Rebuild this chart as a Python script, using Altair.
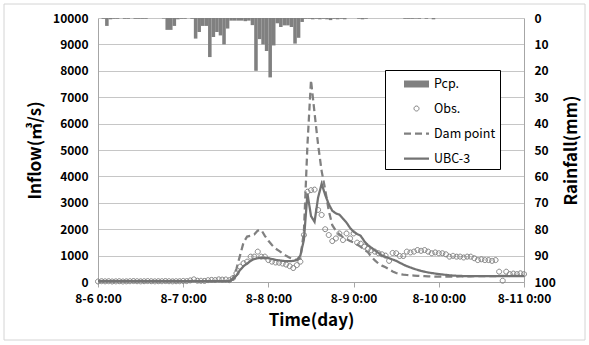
import altair as alt
import pandas as pd

# ---------------- data ----------------
hours = list(range(121))  # hourly, 8-6 0:00 .. 8-11 0:00

obs = [
    20, 30, 25, 30, 20, 25, 30, 20, 25, 30,            # h0-9
    35, 30, 25, 30, 35, 30, 25, 30, 30, 35,            # h10-19
    30, 25, 30, 30, 40, 35, 60, 100, 50, 45,           # h20-29
    40, 70, 80, 75, 100, 90, 95, 70, 150, 330,         # h30-39
    580, 710, 770, 960, 960, 1150, 960, 960, 830, 770,  # h40-49
    740, 730, 700, 660, 600, 530, 640, 770, 1780, 3420,  # h50-59
    3480, 3500, 2730, 2540, 2000, 1780, 1550, 1650, 1840, 1590,  # h60-69
    1840, 1650, 1840, 1490, 1450, 1340, 1250, 1200, 1150, 1090,  # h70-79
    1050, 1000, 800, 1100, 1090, 985, 985, 1150, 1120, 1150,     # h80-89
    1210, 1180, 1210, 1150, 1090, 1120, 1090, 1090, 1050, 960,   # h90-99
    990, 960, 960, 930, 960, 960, 900, 830, 860, 830,            # h100-109
    830, 800, 830, 390, 50, 390, 300, 320, 300, 330,             # h110-119
    300,                                                          # h120
]

dam = [
    30, 30, 30, 30, 30, 30, 30, 30, 30, 30,
    30, 30, 30, 30, 30, 30, 30, 30, 30, 30,
    30, 30, 30, 30, 30, 30, 30, 30, 30, 30,
    30, 30, 30, 30, 30, 30, 30, 50, 150, 500,
    1000, 1500, 1720, 1750, 1800, 1950, 1970, 1750, 1560, 1400,
    1270, 1180, 1080, 990, 920, 870, 830, 900, 1900, 5200,
    7650, 6400, 5200, 4200, 3500, 2700, 2150, 1950, 1800, 1700,
    1620, 1550, 1500, 1420, 1330, 1230, 1130, 960, 820, 700,
    620, 560, 480, 400, 340, 300, 280, 265, 255, 245,
    235, 225, 220, 215, 210, 205, 205, 205, 205, 205,
    205, 205, 210, 210, 215, 215, 220, 220, 220, 225,
    225, 225, 225, 230, 230, 230, 230, 230, 230, 230,
    230,
]

ubc = [
    30, 30, 30, 30, 30, 30, 30, 30, 30, 30,
    30, 30, 30, 30, 30, 30, 30, 30, 30, 30,
    30, 30, 30, 30, 30, 30, 30, 30, 30, 30,
    30, 30, 30, 30, 30, 30, 30, 30, 100, 250,
    450, 600, 700, 800, 870, 900, 920, 910, 900, 870,
    840, 820, 800, 790, 790, 800, 830, 1000, 1600, 3350,
    2500, 2280, 3200, 3720, 3300, 2950, 2700, 2600, 2550, 2400,
    2250, 2050, 1900, 1820, 1750, 1550, 1400, 1300, 1200, 1100,
    1000, 950, 900, 850, 800, 730, 660, 600, 550, 500,
    460, 420, 390, 360, 340, 320, 300, 285, 270, 255,
    245, 235, 230, 225, 225, 225, 225, 225, 225, 225,
    225, 225, 225, 225, 225, 225, 225, 225, 225, 225,
    225,
]

rain = [  # mm per hour, h0 .. h119
    0, 0.3, 3.0, 0.5, 0.3, 0.3, 0, 0.3, 0.3, 0,
    0.3, 0.3, 0.3, 0.3, 0, 0, 0, 0, 0.2, 4.5,
    4.5, 3.0, 0.5, 0.3, 0.3, 0, 0.3, 7.8, 5.3, 3.0,
    3.0, 14.8, 7.2, 5.3, 6.6, 10.0, 4.0, 1.0, 1.0, 1.0,
    1.0, 1.2, 1.0, 2.7, 20.0, 8.0, 10.0, 12.5, 22.5, 10.4,
    2.0, 3.4, 2.8, 2.8, 3.4, 9.7, 7.5, 1.5, 0.3, 0.3,
    0.5, 0.3, 0.5, 0.3, 0.5, 0.8, 0.3, 0.5, 0.3, 0.5,
    0, 0, 0, 0.3, 0.5, 0.3, 0, 0, 0, 0,
    0, 0, 0, 0, 0, 0, 0.3, 0.3, 0.3, 0.2,
    0.3, 0, 0.3, 0, 0.5, 0, 0, 0, 0, 0,
    0, 0, 0, 0, 0, 0, 0, 0, 0, 0,
    0, 0, 0, 0, 0, 0, 0, 0, 0, 0,
]

tick_hours = [0, 24, 48, 72, 96, 120]
tick_labels = ["8-6 0:00", "8-7 0:00", "8-8 0:00", "8-9 0:00", "8-10 0:00", "8-11 0:00"]
series_names = ["Pcp.", "Obs.", "Dam point", "UBC-3"]

# ---------------- tables ----------------
rain_df = pd.DataFrame({"hour": hours[:-1], "rain": rain, "series": "Pcp."})
rain_df["hour_end"] = rain_df["hour"] + 1
obs_df = pd.DataFrame({"hour": hours, "flow": obs, "series": "Obs."})
line_df = pd.concat([
    pd.DataFrame({"hour": hours, "flow": dam, "series": "Dam point"}),
    pd.DataFrame({"hour": hours, "flow": ubc, "series": "UBC-3"}),
])

FONT = "Noto Sans CJK KR"
GRAY = "#808080"
DARK = "#737373"

label_array = "[" + ",".join("'" + t + "'" for t in tick_labels) + "]"
x_axis = alt.Axis(values=tick_hours, labelExpr=label_array + "[round(datum.value/24)]",
                  title="Time(day)", grid=False, tickSize=5, labelPadding=6,
                  titlePadding=8, labelFlush=False, labelOverlap=False)
x_scale = alt.Scale(domain=[0, 120], nice=False, zero=False)

legend = alt.Legend(
    title=None, orient="none", legendX=287, legendY=52,
    strokeColor="black", fillColor="white", padding=4,
    symbolSize=400, symbolOffset=16, labelOffset=6, rowPadding=7,
    labelFont=FONT, labelFontSize=12.5, labelFontWeight="normal", labelColor="black",
)

# symbol shapes (unit paths, scaled by the symbol size)
RECT = "M-1.25,-0.35H1.25V0.35H-1.25Z"
SMALL_CIRCLE = "M0.25,0A0.25,0.25 0 1,1 -0.25,0A0.25,0.25 0 1,1 0.25,0Z"
LINE = "M-1.25,0H1.25"

# one scale per visual channel, all keyed on the same series field -> one merged legend
fill_enc = alt.Fill("series:N", scale=alt.Scale(domain=series_names,
                    range=[GRAY, "transparent", "transparent", "transparent"]), legend=legend)
stroke_enc = alt.Stroke("series:N", scale=alt.Scale(domain=series_names,
                        range=[GRAY, GRAY, GRAY, DARK]), legend=legend)
shape_enc = alt.Shape("series:N", scale=alt.Scale(domain=series_names,
                      range=[RECT, SMALL_CIRCLE, LINE, LINE]), legend=legend)
sw_enc = alt.StrokeWidth("series:N", scale=alt.Scale(type="ordinal", domain=series_names,
                         range=[0, 1, 2.25, 2.25]), legend=legend)
dash_enc = alt.StrokeDash("series:N", scale=alt.Scale(domain=series_names,
                          range=[[1, 0], [1, 0], [7, 4], [1, 0]]), legend=legend)

flow_axis = alt.Axis(values=list(range(0, 10001, 1000)), title="Inflow(㎥/s)", grid=True,
                     ticks=False, labelPadding=10, titlePadding=8, format="d")
flow_scale = alt.Scale(domain=[0, 10000], nice=False)

# light outer frame of the whole figure (decoration, not data)
frame = alt.Chart(pd.DataFrame({"f": [0]})).mark_rect(
    fill="transparent", stroke="#d4d4d4", strokeWidth=1
).encode(x=alt.value(-94), x2=alt.value(487), y=alt.value(-14), y2=alt.value(322))

bars = alt.Chart(rain_df).mark_rect(opacity=1).encode(
    x=alt.X("hour:Q", scale=x_scale, axis=x_axis),
    x2="hour_end:Q",
    y=alt.Y("rain:Q", scale=alt.Scale(domain=[0, 100], reverse=True, nice=False),
            axis=alt.Axis(orient="right", values=list(range(0, 101, 10)), title="Rainfall(mm)",
                          grid=False, ticks=False, labelPadding=10, titleAngle=270,
                          titleX=47, titleY=132, titleAlign="center",
                          titleBaseline="middle")),
    y2=alt.datum(0),
    fill=fill_enc,
)

points = alt.Chart(obs_df).mark_point(filled=True, opacity=1, size=400).encode(
    x=alt.X("hour:Q", scale=x_scale, axis=x_axis),
    y=alt.Y("flow:Q", scale=flow_scale, axis=flow_axis),
    fill=fill_enc,
    stroke=stroke_enc,
    shape=shape_enc,
    strokeWidth=sw_enc,
    strokeDash=dash_enc,
)

lines = alt.Chart(line_df).mark_line().encode(
    x=alt.X("hour:Q", scale=x_scale, axis=x_axis),
    y=alt.Y("flow:Q", scale=flow_scale, axis=flow_axis),
    stroke=stroke_enc,
    strokeWidth=sw_enc,
    strokeDash=dash_enc,
)

flow = alt.layer(points, lines)

chart = alt.layer(frame, bars, flow).resolve_scale(y="independent").properties(
    width=426, height=264,
    autosize=alt.AutoSizeParams(type="none"),
    padding={"left": 98, "top": 18, "right": 65, "bottom": 63},
    background="white",
).configure_view(stroke=None).configure_axis(
    labelFont=FONT, labelFontWeight="bold", labelFontSize=12, labelColor="black",
    titleFont=FONT, titleFontWeight="bold", titleFontSize=17, titleColor="black",
    domainColor="#a6a6a6", tickColor="#a6a6a6", gridColor="#c6c6c6",
)

chart.save("out.html", embed_options={"renderer": "svg", "actions": False})
